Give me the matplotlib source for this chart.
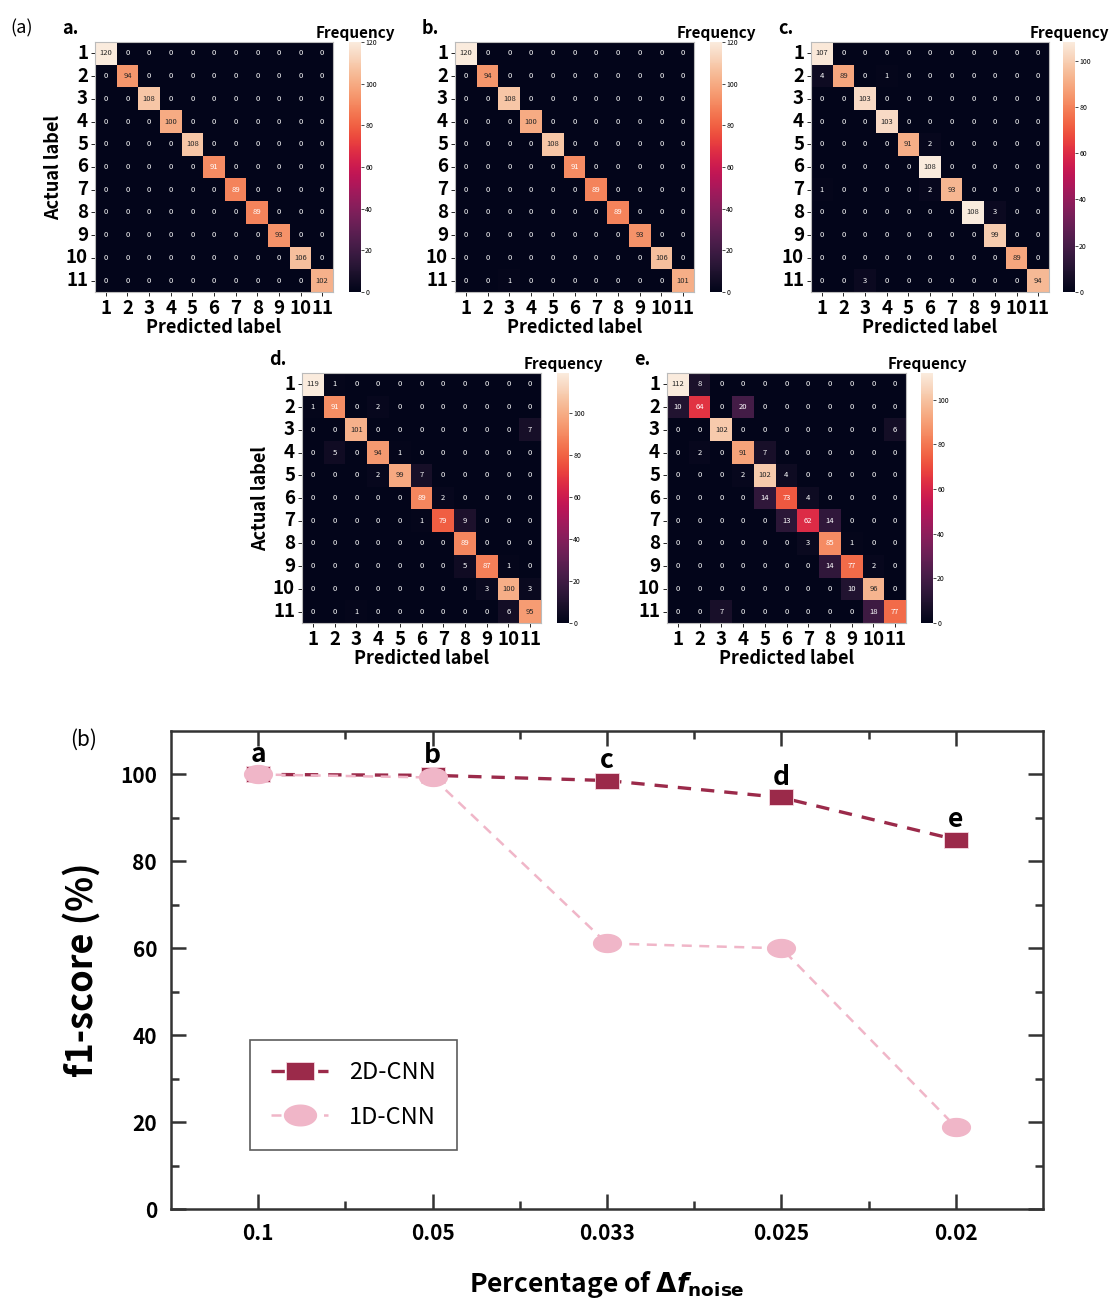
import numpy as np
import matplotlib
matplotlib.use('Agg')
import matplotlib.pyplot as plt
import seaborn as sns
from matplotlib.path import Path

plt.rcParams['font.family'] = ['Noto Sans CJK KR', 'DejaVu Sans']

# confusion matrices (rows = actual, cols = predicted)
cm_a = [[120, 0, 0, 0, 0, 0, 0, 0, 0, 0, 0],
        [0, 94, 0, 0, 0, 0, 0, 0, 0, 0, 0],
        [0, 0, 108, 0, 0, 0, 0, 0, 0, 0, 0],
        [0, 0, 0, 100, 0, 0, 0, 0, 0, 0, 0],
        [0, 0, 0, 0, 108, 0, 0, 0, 0, 0, 0],
        [0, 0, 0, 0, 0, 91, 0, 0, 0, 0, 0],
        [0, 0, 0, 0, 0, 0, 89, 0, 0, 0, 0],
        [0, 0, 0, 0, 0, 0, 0, 89, 0, 0, 0],
        [0, 0, 0, 0, 0, 0, 0, 0, 93, 0, 0],
        [0, 0, 0, 0, 0, 0, 0, 0, 0, 106, 0],
        [0, 0, 0, 0, 0, 0, 0, 0, 0, 0, 102]]

cm_b = [[120, 0, 0, 0, 0, 0, 0, 0, 0, 0, 0],
        [0, 94, 0, 0, 0, 0, 0, 0, 0, 0, 0],
        [0, 0, 108, 0, 0, 0, 0, 0, 0, 0, 0],
        [0, 0, 0, 100, 0, 0, 0, 0, 0, 0, 0],
        [0, 0, 0, 0, 108, 0, 0, 0, 0, 0, 0],
        [0, 0, 0, 0, 0, 91, 0, 0, 0, 0, 0],
        [0, 0, 0, 0, 0, 0, 89, 0, 0, 0, 0],
        [0, 0, 0, 0, 0, 0, 0, 89, 0, 0, 0],
        [0, 0, 0, 0, 0, 0, 0, 0, 93, 0, 0],
        [0, 0, 0, 0, 0, 0, 0, 0, 0, 106, 0],
        [0, 0, 1, 0, 0, 0, 0, 0, 0, 0, 101]]

cm_c = [[107, 0, 0, 0, 0, 0, 0, 0, 0, 0, 0],
        [4, 89, 0, 1, 0, 0, 0, 0, 0, 0, 0],
        [0, 0, 103, 0, 0, 0, 0, 0, 0, 0, 0],
        [0, 0, 0, 103, 0, 0, 0, 0, 0, 0, 0],
        [0, 0, 0, 0, 91, 2, 0, 0, 0, 0, 0],
        [0, 0, 0, 0, 0, 108, 0, 0, 0, 0, 0],
        [1, 0, 0, 0, 0, 2, 93, 0, 0, 0, 0],
        [0, 0, 0, 0, 0, 0, 0, 108, 3, 0, 0],
        [0, 0, 0, 0, 0, 0, 0, 0, 99, 0, 0],
        [0, 0, 0, 0, 0, 0, 0, 0, 0, 89, 0],
        [0, 0, 3, 0, 0, 0, 0, 0, 0, 0, 94]]

cm_d = [[119, 1, 0, 0, 0, 0, 0, 0, 0, 0, 0],
        [1, 91, 0, 2, 0, 0, 0, 0, 0, 0, 0],
        [0, 0, 101, 0, 0, 0, 0, 0, 0, 0, 7],
        [0, 5, 0, 94, 1, 0, 0, 0, 0, 0, 0],
        [0, 0, 0, 2, 99, 7, 0, 0, 0, 0, 0],
        [0, 0, 0, 0, 0, 89, 2, 0, 0, 0, 0],
        [0, 0, 0, 0, 0, 1, 79, 9, 0, 0, 0],
        [0, 0, 0, 0, 0, 0, 0, 89, 0, 0, 0],
        [0, 0, 0, 0, 0, 0, 0, 5, 87, 1, 0],
        [0, 0, 0, 0, 0, 0, 0, 0, 3, 100, 3],
        [0, 0, 1, 0, 0, 0, 0, 0, 0, 6, 95]]

cm_e = [[112, 8, 0, 0, 0, 0, 0, 0, 0, 0, 0],
        [10, 64, 0, 20, 0, 0, 0, 0, 0, 0, 0],
        [0, 0, 102, 0, 0, 0, 0, 0, 0, 0, 6],
        [0, 2, 0, 91, 7, 0, 0, 0, 0, 0, 0],
        [0, 0, 0, 2, 102, 4, 0, 0, 0, 0, 0],
        [0, 0, 0, 0, 14, 73, 4, 0, 0, 0, 0],
        [0, 0, 0, 0, 0, 13, 62, 14, 0, 0, 0],
        [0, 0, 0, 0, 0, 0, 3, 85, 1, 0, 0],
        [0, 0, 0, 0, 0, 0, 0, 14, 77, 2, 0],
        [0, 0, 0, 0, 0, 0, 0, 0, 10, 96, 0],
        [0, 0, 7, 0, 0, 0, 0, 0, 0, 18, 77]]

class_labels = [str(i) for i in range(1, 12)]

# f1-score vs noise
noise_labels = ['0.1', '0.05', '0.033', '0.025', '0.02']
point_labels = ['a', 'b', 'c', 'd', 'e']
f1_2d = [100, 99.8, 98.6, 94.7, 85.0]
f1_1d = [100, 99.3, 61.1, 60.0, 18.9]

W, H = 1119, 1298
fig = plt.figure(figsize=(W / 100, H / 100), dpi=100)


def px_axes(l, t, r, b):
    return fig.add_axes([l / W, 1 - b / H, (r - l) / W, (b - t) / H])


cmap = sns.color_palette('rocket', as_cmap=True)

# heatmap box in pixels, colorbar left edge, panel letter, show ylabel
panels = [
    (cm_a, (95, 42, 333, 292), 349, 'a.', True),
    (cm_b, (455, 42, 694, 292), 710, 'b.', False),
    (cm_c, (811, 42, 1049, 292), 1063, 'c.', False),
    (cm_d, (302, 373, 541, 623), 557, 'd.', True),
    (cm_e, (667, 373, 906, 623), 921, 'e.', False),
]

for cm, (l, t, r, b), cl, letter, show_y in panels:
    ax = px_axes(l, t, r, b)
    cax = px_axes(cl, t, cl + 12, b)
    sns.heatmap(np.array(cm), ax=ax, cbar_ax=cax, cmap=cmap, annot=True, fmt='d',
                annot_kws={'size': 5.5}, xticklabels=class_labels, yticklabels=class_labels,
                square=False)
    ax.tick_params(axis='both', labelsize=13.5, length=3, width=0.6, pad=2)
    ax.set_yticklabels(ax.get_yticklabels(), rotation=0)
    ax.set_xticklabels(ax.get_xticklabels(), rotation=0)
    for lab in ax.get_xticklabels() + ax.get_yticklabels():
        lab.set_fontweight('bold')
    for s in ax.spines.values():
        s.set_visible(True)
        s.set_color('#bbbbbb')
        s.set_linewidth(0.8)
    ax.set_xlabel('Predicted label', fontsize=13, fontweight='bold', labelpad=0)
    if show_y:
        ax.set_ylabel('Actual label', fontsize=13, fontweight='bold', labelpad=2)
    cax.tick_params(labelsize=5, length=2, width=0.5, pad=1)
    cax.set_title('Frequency', fontsize=11, fontweight='bold', pad=3)
    fig.text((l - 33) / W, 1 - (t - 14) / H, letter, fontsize=13, fontweight='bold',
             ha='left', va='center')

fig.text(10 / W, 1 - 28 / H, '(a)', fontsize=13, ha='left', va='center')

# ---- (b) f1-score plot ----
ax2 = px_axes(171, 731, 1043, 1209)
x = np.arange(1, len(noise_labels) + 1)

sq = Path([(-1.5, -1), (1.5, -1), (1.5, 1), (-1.5, 1), (-1.5, -1)],
          [Path.MOVETO, Path.LINETO, Path.LINETO, Path.LINETO, Path.CLOSEPOLY])
th = np.linspace(0, 2 * np.pi, 60)
ell = Path(np.column_stack([1.55 * np.cos(th), np.sin(th)]))

c2d = '#9b2a4a'
c1d = '#f0b6c8'
ax2.plot(x, f1_2d, linestyle=(0, (4, 3)), color=c2d, lw=2.4, marker=sq, ms=17,
         mec='#f5d9e1', mew=0.6, label='2D-CNN', zorder=3)
ax2.plot(x, f1_1d, linestyle=(0, (4, 3)), color=c1d, lw=1.8, marker=ell, ms=20,
         mec=c1d, label='1D-CNN', zorder=4)

for xi, yi, t in zip(x, f1_2d, point_labels):
    ax2.annotate(t, (xi, yi), xytext=(0, 9), textcoords='offset points', ha='center',
                 va='baseline', fontsize=19, fontweight='bold', zorder=5)

ax2.set_xlim(0.5, 5.5)
ax2.set_ylim(0, 110)
ax2.set_xticks(x)
ax2.set_xticklabels(noise_labels)
ax2.set_xticks(np.arange(1.5, 5, 1), minor=True)
ax2.set_yticks(np.arange(0, 101, 20))
ax2.set_yticks(np.arange(10, 110, 10), minor=True)
ax2.tick_params(which='both', direction='in', top=True, right=True, width=1.8,
                labelsize=15, color='#333333')
ax2.tick_params(which='major', length=11, pad=10)
ax2.tick_params(which='minor', length=6)
for lab in ax2.get_xticklabels() + ax2.get_yticklabels():
    lab.set_fontweight('bold')
for s in ax2.spines.values():
    s.set_linewidth(1.8)
    s.set_color('#333333')

ax2.set_ylabel('f1-score (%)', fontsize=26, fontweight='bold', labelpad=14)
ax2.set_xlabel(r'Percentage of $\mathbf{\Delta}\mathbfit{f}_{\mathbf{noise}}$',
               fontsize=19, fontweight='bold', labelpad=18)

leg = ax2.legend(loc='upper left', bbox_to_anchor=((250 - 171) / 872, (1209 - 1040) / 478),
                 borderaxespad=0, fontsize=17, frameon=True, fancybox=False,
                 edgecolor='#333333', borderpad=0.9, labelspacing=0.9, handlelength=2.4,
                 handletextpad=0.9, markerscale=1.15)
leg.get_frame().set_linewidth(1.2)

fig.text(70 / W, 1 - 740 / H, '(b)', fontsize=15, ha='left', va='center')

fig.savefig('out.png', dpi=100)
